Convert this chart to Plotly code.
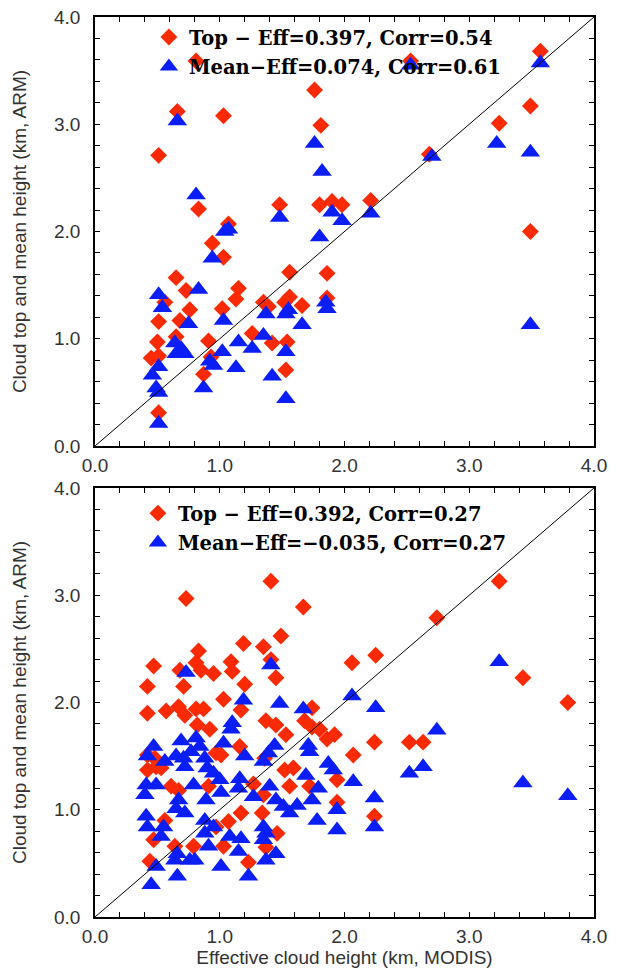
import plotly.graph_objects as go

# ---------------- data (km) ----------------
# Panel 1 : cloud top (red diamonds) and mean height (blue triangles) vs effective height
p1_top_x = [0.81, 2.53, 3.57, 1.76, 0.66, 1.03, 1.81, 3.49, 3.24, 0.51, 2.68, 0.83, 1.48, 1.80,
            1.90, 1.98, 2.21, 3.49, 1.07, 0.94, 1.03, 0.65, 0.73, 1.15, 1.13, 1.56, 1.86, 0.56,
            0.76, 1.02, 1.35, 1.39, 1.52, 1.56, 1.66, 1.86, 0.51, 0.68, 0.65, 0.50, 0.91, 1.26,
            1.42, 1.54, 0.45, 0.51, 0.93, 1.53, 0.87, 0.51]
p1_top_y = [3.59, 3.59, 3.68, 3.32, 3.12, 3.08, 2.99, 3.17, 3.01, 2.71, 2.72, 2.21, 2.25, 2.25,
            2.28, 2.25, 2.29, 2.00, 2.07, 1.89, 1.76, 1.57, 1.45, 1.47, 1.37, 1.62, 1.61, 1.34,
            1.27, 1.28, 1.34, 1.30, 1.34, 1.39, 1.31, 1.38, 1.16, 1.17, 1.02, 0.97, 0.98, 1.05,
            0.96, 0.97, 0.82, 0.84, 0.83, 0.71, 0.67, 0.31]
p1_mean_x = [2.53, 3.57, 0.66, 3.22, 1.76, 2.70, 3.49, 1.82, 0.81, 1.48, 1.90, 1.98, 2.21, 1.80,
             1.04, 1.07, 0.94, 0.83, 0.51, 0.54, 1.03, 1.37, 1.55, 1.53, 1.66, 1.85, 1.86, 0.75,
             0.64, 0.69, 0.65, 0.72, 1.26, 1.15, 1.35, 1.53, 1.02, 0.51, 0.46, 0.92, 0.95, 1.13,
             0.87, 1.42, 0.49, 0.51, 1.53, 0.51, 3.49]
p1_mean_y = [3.55, 3.57, 3.03, 2.82, 2.82, 2.70, 2.74, 2.56, 2.34, 2.13, 2.18, 2.10, 2.17, 1.95,
             2.00, 2.02, 1.75, 1.46, 1.41, 1.29, 1.17, 1.23, 1.27, 1.23, 1.13, 1.34, 1.28, 1.14,
             0.96, 0.91, 0.86, 0.86, 0.91, 0.97, 1.03, 0.88, 0.88, 0.74, 0.66, 0.79, 0.75, 0.73,
             0.54, 0.65, 0.54, 0.50, 0.44, 0.21, 1.13]

# Panel 2
p2_top_x = [1.41, 0.73, 1.67, 3.24, 2.74, 1.49, 1.19, 1.35, 0.83, 0.47, 0.68, 0.81, 0.85, 0.95,
            1.09, 1.10, 1.41, 1.45, 2.06, 2.25, 0.42, 0.71, 1.20, 3.43, 3.79, 1.03, 0.42, 0.57,
            0.67, 0.72, 0.81, 0.87, 1.17, 1.74, 0.82, 0.92, 1.37, 1.45, 1.68, 1.74, 1.80, 1.53,
            1.86, 1.92, 2.24, 2.52, 2.63, 1.16, 2.07, 0.42, 0.48, 0.97, 1.01, 1.36, 0.42, 0.49,
            0.53, 1.52, 1.59, 1.56, 1.94, 0.61, 0.67, 0.91, 1.27, 1.35, 1.72, 1.94, 1.17, 1.07,
            1.34, 2.24, 0.56, 0.97, 1.46, 0.47, 0.64, 0.79, 1.03, 1.37, 0.44, 1.23]
p2_top_y = [3.13, 2.97, 2.89, 3.13, 2.79, 2.62, 2.55, 2.52, 2.48, 2.34, 2.30, 2.37, 2.30, 2.27,
            2.38, 2.29, 2.40, 2.23, 2.37, 2.44, 2.15, 2.15, 2.17, 2.23, 2.00, 2.03, 1.90, 1.92,
            1.96, 1.88, 1.94, 1.94, 1.93, 1.95, 1.79, 1.75, 1.83, 1.79, 1.83, 1.77, 1.75, 1.70,
            1.66, 1.70, 1.63, 1.63, 1.63, 1.59, 1.51, 1.51, 1.48, 1.53, 1.51, 1.48, 1.37, 1.40,
            1.39, 1.37, 1.39, 1.22, 1.28, 1.22, 1.18, 1.22, 1.24, 1.14, 1.22, 1.07, 0.97, 0.89,
            0.97, 0.94, 0.90, 0.84, 0.78, 0.72, 0.66, 0.66, 0.66, 0.65, 0.52, 0.51]
p2_mean_x = [3.24, 0.73, 1.41, 1.19, 1.48, 1.67, 2.06, 2.25, 2.74, 1.10, 1.09, 1.03, 0.69, 0.81,
             0.84, 0.77, 0.47, 0.42, 0.56, 0.65, 0.71, 0.72, 0.88, 0.90, 0.95, 1.00, 1.20, 1.44,
             1.39, 1.35, 1.71, 1.72, 1.87, 1.91, 2.52, 2.63, 2.07, 2.24, 2.24, 3.43, 3.79, 0.41,
             0.49, 0.40, 0.67, 0.65, 0.72, 0.79, 0.89, 0.88, 0.95, 0.88, 1.01, 1.16, 1.15, 1.27,
             1.40, 1.45, 1.51, 1.56, 1.62, 1.69, 1.74, 1.79, 1.94, 1.94, 1.78, 0.41, 0.42, 0.55,
             0.53, 0.66, 0.64, 0.66, 0.76, 0.80, 0.49, 0.45, 1.01, 1.23, 1.08, 1.17, 1.15, 1.35,
             1.37, 1.35, 1.37, 1.45, 0.91]
p2_mean_y = [2.38, 2.28, 2.35, 2.02, 1.99, 1.94, 2.06, 1.95, 1.74, 1.81, 1.75, 1.62, 1.64, 1.67,
             1.59, 1.54, 1.59, 1.50, 1.45, 1.50, 1.48, 1.40, 1.48, 1.39, 1.34, 1.28, 1.50, 1.60,
             1.53, 1.45, 1.60, 1.54, 1.43, 1.37, 1.34, 1.40, 1.26, 1.11, 0.84, 1.25, 1.13, 1.23,
             1.23, 1.14, 1.09, 1.01, 0.97, 1.23, 1.09, 0.90, 0.84, 0.78, 1.16, 1.29, 1.20, 1.12,
             1.22, 1.09, 1.03, 0.97, 1.04, 1.32, 1.09, 1.20, 1.00, 0.81, 0.90, 0.94, 0.84, 0.84,
             0.75, 0.59, 0.53, 0.38, 0.53, 0.53, 0.47, 0.30, 0.47, 0.38, 0.75, 0.73, 0.61, 0.84,
             0.78, 0.72, 0.53, 0.59, 0.66]

top_labels = ["Top − Eff=0.397, Corr=0.54", "Top − Eff=0.392, Corr=0.27"]
mean_labels = ["Mean−Eff=0.074, Corr=0.61", "Mean−Eff=−0.035, Corr=0.27"]
axis_range = [0, 4]
tick_vals = [0, 1, 2, 3, 4]
x_title = "Effective cloud height (km, MODIS)"
y_title = "Cloud top and mean height (km, ARM)"

RED = "#fa2a05"
BLUE = "#0a1ef5"

fig = go.Figure()

panels = [
    (p1_top_x, p1_top_y, p1_mean_x, p1_mean_y, "x", "y", "legend"),
    (p2_top_x, p2_top_y, p2_mean_x, p2_mean_y, "x2", "y2", "legend2"),
]
for i, (tx, ty, mx, my, xa, ya, lg) in enumerate(panels):
    fig.add_trace(go.Scatter(x=tx, y=ty, mode="markers", name=top_labels[i],
                             xaxis=xa, yaxis=ya, legend=lg, legendgroup=f"top{i}",
                             marker=dict(symbol="diamond", size=13, color=RED, line=dict(width=0)),
                             cliponaxis=False))
    fig.add_trace(go.Scatter(x=mx, y=my, mode="markers", name=mean_labels[i],
                             xaxis=xa, yaxis=ya, legend=lg, legendgroup=f"mean{i}",
                             marker=dict(symbol="triangle-up", size=17, color=BLUE, line=dict(width=0)),
                             cliponaxis=False))
    fig.add_shape(type="line", xref=xa, yref=ya, x0=axis_range[0], y0=axis_range[0],
                  x1=axis_range[1], y1=axis_range[1], line=dict(color="black", width=1),
                  layer="above")

tickfont = dict(family="Liberation Sans", size=19, color="#333333")
titlefont = dict(family="Liberation Sans", size=19, color="#333333")


def axis(domain, anchor, title=None, standoff=10, lab_standoff=8):
    d = dict(domain=domain, anchor=anchor, range=axis_range, tickvals=tick_vals,
             tickformat=".1f", ticks="inside", ticklen=5, tickwidth=1, tickcolor="black",
             showline=True, linecolor="black", linewidth=1.5, mirror="ticks",
             showgrid=False, zeroline=False, tickfont=tickfont, fixedrange=True,
             automargin=False, ticklabelstandoff=lab_standoff,
             minor=dict(dtick=0.2, tick0=0, ticks="inside", ticklen=5, tickwidth=1,
                        tickcolor="black", showgrid=False))
    if title:
        d["title"] = dict(text=title, font=titlefont, standoff=standoff)
    return d


legend_font = dict(family="DejaVu Serif", size=19.5, color="black", weight="bold")

fig.update_layout(
    width=618, height=968,
    margin=dict(l=95, r=24, t=17, b=51),
    paper_bgcolor="white", plot_bgcolor="white",
    showlegend=True,
    xaxis=axis([0, 1], "y", lab_standoff=1),
    yaxis=axis([0.5233, 1], "x", y_title, standoff=22, lab_standoff=9),
    xaxis2=axis([0, 1], "y2", x_title, standoff=8, lab_standoff=1),
    yaxis2=axis([0, 0.4767], "x2", y_title, standoff=22, lab_standoff=9),
    legend=dict(x=0.108, y=0.999, xanchor="left", yanchor="top",
                bgcolor="rgba(0,0,0,0)", borderwidth=0, font=legend_font,
                tracegroupgap=1, itemclick=False),
    legend2=dict(x=0.086, y=0.470, xanchor="left", yanchor="top",
                 bgcolor="rgba(0,0,0,0)", borderwidth=0, font=legend_font,
                 tracegroupgap=1, itemclick=False),
)

fig.write_html("out.html", config={"displayModeBar": False},
               post_script="document.body.style.margin='0px';")
